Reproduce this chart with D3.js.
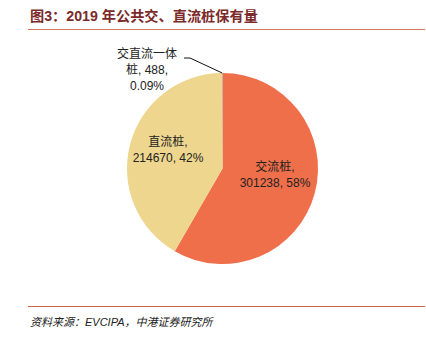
<!DOCTYPE html>
<html><head><meta charset="utf-8">
<script src="https://cdn.jsdelivr.net/npm/d3@7"></script>
<style>body{margin:0;background:#fff}svg{display:block}</style>
</head><body><svg id="c" width="426" height="337"></svg>
<script>
const categories = ["交流桩", "直流桩", "交直流一体桩"];
const values = [301238, 214670, 488];
const percents = ["58%", "42%", "0.09%"];
const colors = ["#EF6F4A", "#EED68E", "#A6A6A6"];

const svg = d3.select("#c");
const font = "'Liberation Sans','Noto Sans CJK SC',sans-serif";

svg.append("text").attr("x", 30).attr("y", 21)
  .attr("font-family", font)
  .attr("font-weight", "bold").attr("font-size", 14.2).attr("fill", "#7B2A2A")
  .text("图3：2019 年公共交、直流桩保有量");
svg.append("line").attr("x1", 28).attr("x2", 425).attr("y1", 29.5).attr("y2", 29.5)
  .attr("stroke", "#D0785A").attr("stroke-width", 1.2);
svg.append("line").attr("x1", 28).attr("x2", 425).attr("y1", 306.5).attr("y2", 306.5)
  .attr("stroke", "#C8694A").attr("stroke-width", 1.2);
svg.append("text").attr("x", 30).attr("y", 326)
  .attr("font-family", font).attr("font-style", "italic").attr("font-size", 11).attr("fill", "#222")
  .text("资料来源：EVCIPA，中港证券研究所");

const cx = 222.5, cy = 168.5, r = 95.5;
const pie = d3.pie().sort(null).value(d => d)(values);
const arc = d3.arc().innerRadius(0).outerRadius(r);
const g = svg.append("g").attr("transform", `translate(${cx},${cy})`);
g.selectAll("path").data(pie).join("path")
  .attr("d", arc).attr("fill", (d, i) => colors[i]);

function label(lines, x, y) {
  const t = svg.append("text").attr("font-family", font).attr("font-size", 12)
    .attr("fill", "#222").attr("text-anchor", "middle");
  lines.forEach((s, i) => t.append("tspan").attr("x", x).attr("y", y + i * 16).text(s));
}
label([categories[0] + ",", values[0] + ", " + percents[0]], 275, 171);
label([categories[1] + ",", values[1] + ", " + percents[1]], 168, 146);
label(["交直流一体", "桩, " + values[2] + ",", percents[2]], 147, 58);

// leader line for tiny slice
const tiny = pie[2];
const mid = (tiny.startAngle + tiny.endAngle) / 2;
const px = cx + r * Math.sin(mid), py = cy - r * Math.cos(mid);
svg.append("polyline").attr("fill", "none").attr("stroke", "#111").attr("stroke-width", 1)
  .attr("points", `${px},${py} 190,58 184,58`);
</script></body></html>
